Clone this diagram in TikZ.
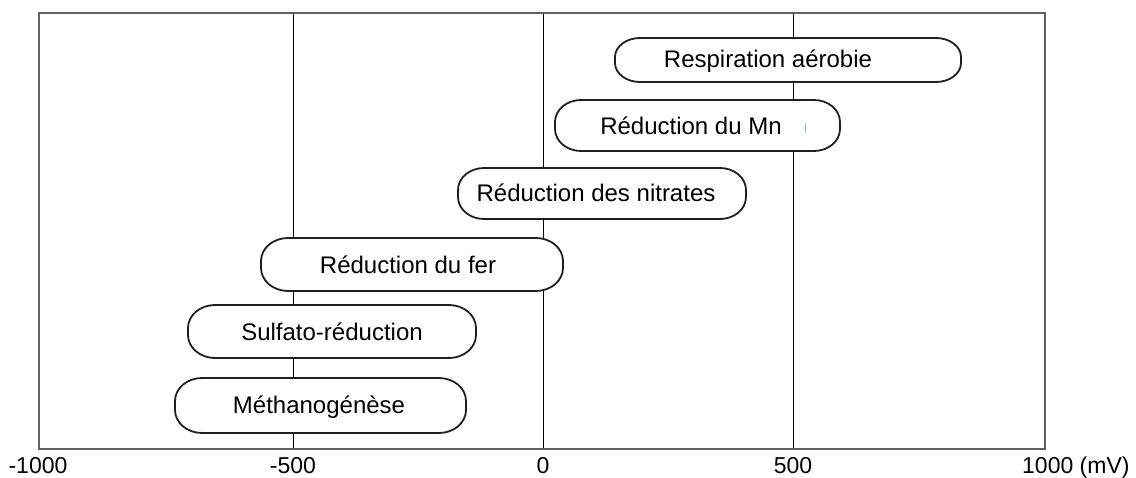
\documentclass[tikz,border=0pt]{standalone}
\usepackage{fontspec}
\setmainfont{Liberation Sans}
\newcommand{\pillbox}[6]{%
  \path[pill] ({#1+#5},#2) -- ({#3-#5},#2)
    .. controls ({#3-#5+0.5523*#5},#2) and (#3,{#2+#6-0.5523*#6}) .. (#3,{#2+#6})
    -- (#3,{#4-#6})
    .. controls (#3,{#4-#6+0.5523*#6}) and ({#3-#5+0.5523*#5},#4) .. ({#3-#5},#4)
    -- ({#1+#5},#4)
    .. controls ({#1+#5-0.5523*#5},#4) and (#1,{#4-#6+0.5523*#6}) .. (#1,{#4-#6})
    -- (#1,{#2+#6})
    .. controls (#1,{#2+#6-0.5523*#6}) and ({#1+#5-0.5523*#5},#2) .. ({#1+#5},#2)
    -- cycle;}
\begin{document}
\begin{tikzpicture}[x=1pt,y=-1pt,
  frame/.style={draw=black!62,line width=2pt},
  grid/.style={draw=black,line width=1pt},
  pill/.style={draw=black!88,line width=1.8pt,fill=white,line join=round},
  lab/.style={font=\fontsize{24}{28}\selectfont,inner sep=0pt,text height=17pt,text depth=0pt,anchor=center},
  tick/.style={font=\fontsize{23}{26}\selectfont,inner sep=0pt,text height=16.5pt,text depth=0pt}
]
\useasboundingbox (0,0) rectangle (1136,478);
% frame and grid
\coordinate (tl) at (39,13);
\coordinate (br) at (1045,449);
\coordinate (g1t) at (293,13); \coordinate (g1b) at (293,449);
\coordinate (g2t) at (543,13); \coordinate (g2b) at (543,449);
\coordinate (g3t) at (793,13); \coordinate (g3b) at (793,449);
\draw[grid] (g1t) -- (g1b);
\draw[grid] (g2t) -- (g2b);
\draw[grid] (g3t) -- (g3b);
\draw[frame] (tl) rectangle (br);
% pills
\pillbox{615}{38}{961}{82}{25}{19}
\pillbox{555}{100}{840}{151}{26}{22}
\pillbox{458}{168}{746}{219}{26}{22}
\pillbox{261}{238}{563}{291}{27}{23}
\pillbox{188}{305}{476}{358}{27}{23}
\pillbox{175}{378}{466}{433}{27}{23}
\draw[draw={rgb,255:red,140;green,195;blue,230},line width=1pt] (805,123) -- (805,133);
% labels
\node[lab] (t1) at (768,59) {Respiration aérobie};
\node[lab] (t2) at (691,126) {Réduction du Mn};
\node[lab] (t3) at (596,193) {Réduction des nitrates};
\node[lab] (t4) at (408,265) {Réduction du fer};
\node[lab] (t5) at (332,332) {Sulfato-réduction};
\node[lab] (t6) at (319,405) {Méthanogénèse};
% axis labels
\node[tick] (a1) at (38,465) {-1000};
\node[tick] (a2) at (293,465) {-500};
\node[tick] (a3) at (543,465) {0};
\node[tick] (a4) at (793,465) {500};
\node[tick,anchor=west] (a5) at (1022,465) {1000 (mV)};
\end{tikzpicture}
\end{document}
